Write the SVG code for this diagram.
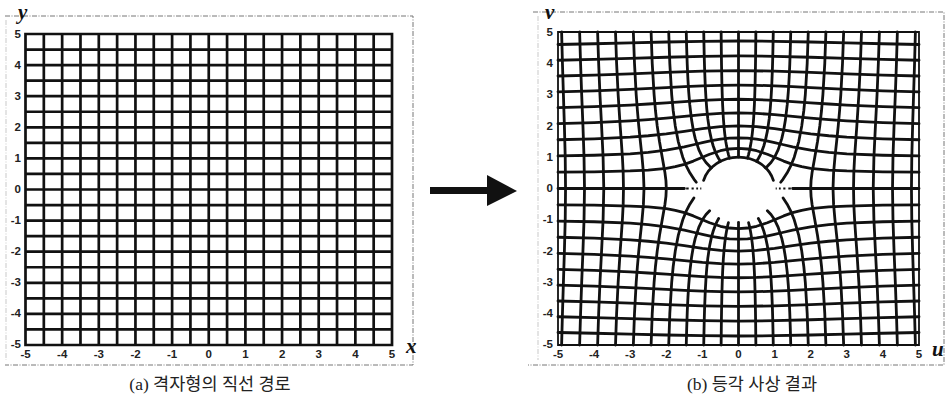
<svg xmlns="http://www.w3.org/2000/svg" width="946" height="416" viewBox="0 0 946 416">
<style>
.grid{fill:none;stroke:#111;stroke-width:2.7;vector-effect:non-scaling-stroke;stroke-linecap:square}
.cur{fill:none;stroke:#111;stroke-width:2.8;vector-effect:non-scaling-stroke;stroke-linejoin:round;stroke-linecap:round}
.thin{fill:none;stroke:#111;stroke-width:2;vector-effect:non-scaling-stroke}
.box{fill:none;stroke:#111;stroke-width:1.8;vector-effect:non-scaling-stroke}
.frame{fill:none;stroke:#777;stroke-width:1;stroke-dasharray:5 1.5 1 1.5}
.tick{font-family:"Liberation Sans",Arial,sans-serif;font-size:11.5px;font-weight:bold;fill:#222}
.axl{font-family:"Liberation Serif","Times New Roman",serif;font-size:21px;font-weight:bold;font-style:italic;fill:#111}
.cap{font-family:"Liberation Serif","Noto Sans CJK KR",serif;font-size:17.5px;fill:#222;text-anchor:middle}
</style>
<defs>
<path id="s1" class="cur" d="M-5,0.521L-4,0.533L-3,0.56L-2.5,0.589L-2,0.646L-1.75,0.696L-1.5,0.771L-1.25,0.876L-1,1L-0.8,1.095L-0.5,1.207L-0.25,1.262L0,1.281L0.25,1.262L0.5,1.207L0.8,1.095L1,1L1.25,0.876L1.5,0.771L1.75,0.696L2,0.646L2.5,0.589L3,0.56L4,0.533L5,0.521"/>
<path id="s2" class="cur" d="M-5,1.04L-4,1.062L-3,1.108L-2.5,1.152L-2,1.223L-1.5,1.331L-1.25,1.398L-1,1.466L-0.75,1.528L-0.5,1.576L-0.25,1.607L0,1.618L0.25,1.607L0.5,1.576L0.75,1.528L1,1.466L1.25,1.398L1.5,1.331L2,1.223L2.5,1.152L3,1.108L4,1.062L5,1.04"/>
<path id="s3" class="cur" d="M-5,1.557L-4,1.586L-3,1.64L-2.5,1.685L-2,1.748L-1.5,1.827L-1,1.911L-0.5,1.976L0,2L0.5,1.976L1,1.911L1.5,1.827L2,1.748L2.5,1.685L3,1.64L4,1.586L5,1.557"/>
<path id="s4" class="cur" d="M-5,2.071L-4,2.103L-3,2.158L-2.5,2.198L-2,2.248L-1.5,2.305L-1,2.359L-0.5,2.4L0,2.414L0.5,2.4L1,2.359L1.5,2.305L2,2.248L2.5,2.198L3,2.158L4,2.103L5,2.071"/>
<path id="s5" class="cur" d="M-5,2.582L-4,2.615L-3,2.666L-2.5,2.699L-2,2.738L-1.5,2.778L-1,2.815L-0.5,2.842L0,2.851L0.5,2.842L1,2.815L1.5,2.778L2,2.738L2.5,2.699L3,2.666L4,2.615L5,2.582"/>
<path id="s6" class="cur" d="M-5,3.089L-4,3.121L-3,3.167L-2,3.223L-1.5,3.254L-1,3.279L-0.5,3.297L0,3.303L0.5,3.297L1,3.279L1.5,3.254L2,3.223L3,3.167L4,3.121L5,3.089"/>
<path id="s7" class="cur" d="M-5,3.595L-4,3.625L-3,3.664L-2,3.709L-1,3.749L0,3.766L1,3.749L2,3.709L3,3.664L4,3.625L5,3.595"/>
<path id="s8" class="cur" d="M-5,4.098L-4,4.125L-3,4.158L-2,4.194L-1,4.224L0,4.236L1,4.224L2,4.194L3,4.158L4,4.125L5,4.098"/>
<path id="s9" class="cur" d="M-5,4.6L-4,4.624L-3,4.652L-2,4.681L-1,4.703L0,4.712L1,4.703L2,4.681L3,4.652L4,4.624L5,4.6"/>
<path id="e1" class="cur" d="M0.25,0.968L0.28,1.093L0.3,1.187L0.33,1.354L0.35,1.487L0.38,1.738L0.4,1.96L0.42,2.252L0.44,2.672L0.45,2.966L0.46,3.36L0.47,3.93L0.475,4.333L0.48,4.875L0.481,5"/>
<path id="e2" class="cur" d="M0.5,0.866L0.55,0.959L0.6,1.068L0.65,1.198L0.7,1.358L0.75,1.561L0.8,1.833L0.85,2.224L0.88,2.561L0.9,2.862L0.92,3.264L0.94,3.845L0.95,4.254L0.96,4.804L0.963,5"/>
<path id="e3" class="cur" d="M0.75,0.661L0.8,0.709L0.9,0.831L1,1L1.1,1.241L1.2,1.6L1.25,1.854L1.3,2.193L1.35,2.679L1.38,3.098L1.4,3.47L1.41,3.698L1.42,3.966L1.436,4.5L1.447,5"/>
<path id="e4" class="cur" d="M1.169,0.2L1.236,0.3L1.348,0.5L1.458,0.75L1.544,1L1.669,1.5L1.752,2L1.81,2.5L1.851,3L1.903,4L1.933,5"/>
<path id="e5" class="cur" d="M2,0L2.01,0.25L2.037,0.5L2.113,1L2.189,1.5L2.252,2L2.301,2.5L2.338,3L2.39,4L2.421,5"/>
<path id="e6" class="cur" d="M2.618,0L2.634,0.5L2.672,1L2.718,1.5L2.763,2L2.801,2.5L2.834,3L2.881,4L2.913,5"/>
<path id="e7" class="cur" d="M3.186,0L3.194,0.5L3.216,1L3.246,1.5L3.278,2L3.334,3L3.377,4L3.407,5"/>
<path id="e8" class="cur" d="M3.732,0L3.751,1L3.793,2L3.838,3L3.874,4L3.903,5"/>
<path id="e9" class="cur" d="M4.266,0L4.279,1L4.309,2L4.344,3L4.375,4L4.401,5"/>
<path id="e10" class="cur" d="M4.791,0L4.8,1L4.823,2L4.85,3L4.877,4L4.9,5"/>
<path id="l0" class="cur" d="M0,1.08V5"/>
<path id="l1" class="cur" d="M0.28,1.093L0.3,1.187L0.33,1.354L0.35,1.487L0.38,1.738L0.4,1.96L0.42,2.252L0.44,2.672L0.45,2.966L0.46,3.36L0.47,3.93L0.475,4.333L0.48,4.875L0.481,5"/>
<path id="l2" class="cur" d="M0.55,0.959L0.6,1.068L0.65,1.198L0.7,1.358L0.75,1.561L0.8,1.833L0.85,2.224L0.88,2.561L0.9,2.862L0.92,3.264L0.94,3.845L0.95,4.254L0.96,4.804L0.963,5"/>
<path id="l3" class="cur" d="M0.8,0.709L0.9,0.831L1,1L1.1,1.241L1.2,1.6L1.25,1.854L1.3,2.193L1.35,2.679L1.38,3.098L1.4,3.47L1.41,3.698L1.42,3.966L1.436,4.5L1.447,5"/>
<path id="l4" class="cur" d="M1.236,0.3L1.348,0.5L1.458,0.75L1.544,1L1.669,1.5L1.752,2L1.81,2.5L1.851,3L1.903,4L1.933,5"/>
</defs>

<g id="plot-a">
<path class="frame" d="M5,16H413V365H5"/>
<path class="frame" d="M6,20V360" stroke-opacity="0.4"/>
<g transform="translate(208.75,189.5) scale(36.65,-31.1)">
<path class="grid" d="M-5,-5V5M-4.5,-5V5M-4,-5V5M-3.5,-5V5M-3,-5V5M-2.5,-5V5M-2,-5V5M-1.5,-5V5M-1,-5V5M-0.5,-5V5M0,-5V5M0.5,-5V5M1,-5V5M1.5,-5V5M2,-5V5M2.5,-5V5M3,-5V5M3.5,-5V5M4,-5V5M4.5,-5V5M5,-5V5M-5,-5H5M-5,-4.5H5M-5,-4H5M-5,-3.5H5M-5,-3H5M-5,-2.5H5M-5,-2H5M-5,-1.5H5M-5,-1H5M-5,-0.5H5M-5,0H5M-5,0.5H5M-5,1H5M-5,1.5H5M-5,2H5M-5,2.5H5M-5,3H5M-5,3.5H5M-5,4H5M-5,4.5H5M-5,5H5"/>
</g>
<g class="tick" text-anchor="end">
<text x="21" y="38">5</text><text x="21" y="69">4</text><text x="21" y="100">3</text><text x="21" y="131">2</text><text x="21" y="162">1</text><text x="21" y="193">0</text><text x="21" y="224">-1</text><text x="21" y="255">-2</text><text x="21" y="286">-3</text><text x="21" y="317">-4</text><text x="21" y="348">-5</text>
</g>
<g class="tick" text-anchor="middle">
<text x="25.5" y="358">-5</text><text x="62.2" y="358">-4</text><text x="98.8" y="358">-3</text><text x="135.5" y="358">-2</text><text x="172.1" y="358">-1</text><text x="208.8" y="358">0</text><text x="245.4" y="358">1</text><text x="282.1" y="358">2</text><text x="318.7" y="358">3</text><text x="355.4" y="358">4</text><text x="392" y="358">5</text>
</g>
<text class="axl" x="18" y="19">y</text>
<text class="axl" x="406" y="353">x</text>
</g>

<g id="plot-b">
<path class="frame" d="M533,12H944V365H528"/>
<path class="frame" d="M538,16V360" stroke-opacity="0.4"/>
<g transform="translate(738.5,188.5) scale(36.1,-31.3)">
<rect class="box" x="-5" y="-5" width="10" height="10"/>
<use href="#s1"/><use href="#s2"/><use href="#s3"/><use href="#s4"/><use href="#s5"/><use href="#s6"/><use href="#s7"/><use href="#s8"/><use href="#s9"/>
<use href="#s1" transform="scale(1,-1)"/><use href="#s2" transform="scale(1,-1)"/><use href="#s3" transform="scale(1,-1)"/><use href="#s4" transform="scale(1,-1)"/><use href="#s5" transform="scale(1,-1)"/><use href="#s6" transform="scale(1,-1)"/><use href="#s7" transform="scale(1,-1)"/><use href="#s8" transform="scale(1,-1)"/><use href="#s9" transform="scale(1,-1)"/>
<path class="cur" d="M0,1V5"/>
<use href="#e1"/><use href="#e2"/><use href="#e3"/><use href="#e4"/><use href="#e5"/><use href="#e6"/><use href="#e7"/><use href="#e8"/><use href="#e9"/><use href="#e10"/>
<use href="#e1" transform="scale(-1,1)"/><use href="#e2" transform="scale(-1,1)"/><use href="#e3" transform="scale(-1,1)"/><use href="#e4" transform="scale(-1,1)"/><use href="#e5" transform="scale(-1,1)"/><use href="#e6" transform="scale(-1,1)"/><use href="#e7" transform="scale(-1,1)"/><use href="#e8" transform="scale(-1,1)"/><use href="#e9" transform="scale(-1,1)"/><use href="#e10" transform="scale(-1,1)"/>
<use href="#e5" transform="scale(1,-1)"/><use href="#e6" transform="scale(1,-1)"/><use href="#e7" transform="scale(1,-1)"/><use href="#e8" transform="scale(1,-1)"/><use href="#e9" transform="scale(1,-1)"/><use href="#e10" transform="scale(1,-1)"/>
<use href="#e5" transform="scale(-1,-1)"/><use href="#e6" transform="scale(-1,-1)"/><use href="#e7" transform="scale(-1,-1)"/><use href="#e8" transform="scale(-1,-1)"/><use href="#e9" transform="scale(-1,-1)"/><use href="#e10" transform="scale(-1,-1)"/>
<use href="#l0" transform="scale(1,-1)"/>
<use href="#l1" transform="scale(1,-1)"/><use href="#l2" transform="scale(1,-1)"/><use href="#l3" transform="scale(1,-1)"/><use href="#l4" transform="scale(1,-1)"/>
<use href="#l1" transform="scale(-1,-1)"/><use href="#l2" transform="scale(-1,-1)"/><use href="#l3" transform="scale(-1,-1)"/><use href="#l4" transform="scale(-1,-1)"/>
<path class="cur" d="M-5,0H-1.5M1.5,0H5"/>
<path class="thin" d="M-1.45,0H-1.38M-1.3,0H-1.24M-1.17,0H-1.12M-1.06,0H-1.03M1.45,0H1.38M1.3,0H1.24M1.17,0H1.12M1.06,0H1.03"/>
<path class="cur" d="M-0.966,0.259A1,1 0 0 0 0.966,0.259"/>
</g>
<g class="tick" text-anchor="end">
<text x="553" y="36">5</text><text x="553" y="67">4</text><text x="553" y="98">3</text><text x="553" y="130">2</text><text x="553" y="161">1</text><text x="553" y="192">0</text><text x="553" y="223">-1</text><text x="553" y="255">-2</text><text x="553" y="286">-3</text><text x="553" y="317">-4</text><text x="553" y="348">-5</text>
</g>
<g class="tick" text-anchor="middle">
<text x="558" y="358">-5</text><text x="594.1" y="358">-4</text><text x="630.2" y="358">-3</text><text x="666.3" y="358">-2</text><text x="702.4" y="358">-1</text><text x="738.5" y="358">0</text><text x="774.6" y="358">1</text><text x="810.7" y="358">2</text><text x="846.8" y="358">3</text><text x="882.9" y="358">4</text><text x="919" y="358">5</text>
</g>
<text class="axl" x="545" y="19">v</text>
<text class="axl" x="932" y="356">u</text>
</g>

<g id="connectors">
<path d="M430,187H488V194H430Z" fill="#111"/>
<path d="M487,175L517,191L487,206Z" fill="#111"/>
</g>

<g id="captions">
<text class="cap" x="210" y="390">(a) 격자형의 직선 경로</text>
<text class="cap" x="752" y="390">(b) 등각 사상 결과</text>
</g>
</svg>
